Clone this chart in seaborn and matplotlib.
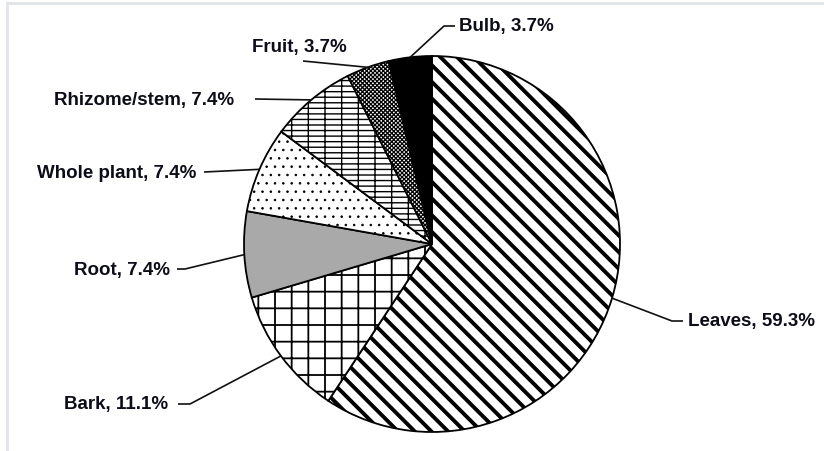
import matplotlib
matplotlib.use("Agg")
import matplotlib.pyplot as plt
import seaborn as sns
import numpy as np
from matplotlib.patches import Rectangle

sns.set_style("white")
plt.rcParams["font.family"] = ["Liberation Sans Narrow", "Liberation Sans", "DejaVu Sans"]

# data, clockwise from 12 o'clock
parts = ["Leaves", "Bark", "Root", "Whole plant", "Rhizome/stem", "Fruit", "Bulb"]
shares = [59.3, 11.1, 7.4, 7.4, 7.4, 3.7, 3.7]
fills = ["white", "white", "#a9a9a9", "white", "white", "white", "black"]
hatches = ["\\\\", "+", None, "..", "---|", "xxxxxxxx", None]
hatch_widths = [2.8, 1.3, 1.0, 0.6, 1.0, 0.9, 1.0]

# label layout in pixels: text anchor, elbow point, alignment
label_pos = {
    "Leaves": ((688, 322), [(683, 322), (672, 322)], "left", "center"),
    "Bark": ((168, 405), [(178, 405), (190, 405)], "right", "center"),
    "Root": ((170, 270), [(177, 270), (185, 270)], "right", "center"),
    "Whole plant": ((196, 173), [(204, 173)], "right", "center"),
    "Rhizome/stem": ((234, 100), [(255, 100)], "right", "center"),
    "Fruit": ((299, 47), [(303, 62)], "center", "center"),
    "Bulb": ((459, 27), [(455, 27), (444, 27)], "left", "center"),
}

W, H = 824, 452
CX, CY, R = 432, 245, 188

fig = plt.figure(figsize=(W / 100, H / 100), dpi=100)
fig.patches.append(Rectangle((7 / W, -0.1), 1.2, (H - 4) / H + 0.1,
                             transform=fig.transFigure, fill=False,
                             edgecolor="#e1e4e8", linewidth=2))

ax = fig.add_axes([(CX - R) / W, (H - CY - R) / H, 2 * R / W, 2 * R / H])
wedges, _ = ax.pie(shares, colors=fills, startangle=90, counterclock=False,
                   wedgeprops=dict(edgecolor="black", linewidth=1.3))
for w, h, hw in zip(wedges, hatches, hatch_widths):
    if h:
        w.set_hatch(h)
        try:
            w.set_hatch_linewidth(hw)
        except AttributeError:
            pass
ax.set_xlim(-1, 1)
ax.set_ylim(-1, 1)
ax.set_aspect("auto")
ax.axis("off")


def to_data(px, py):
    return (px - CX) / R, (CY - py) / R


for name, val, w in zip(parts, shares, wedges):
    ang = np.deg2rad((w.theta1 + w.theta2) / 2)
    edge = (np.cos(ang), np.sin(ang))
    (tx, ty), elbow, ha, va = label_pos[name]
    pts = [to_data(*p) for p in elbow] + [edge]
    ax.plot([p[0] for p in pts], [p[1] for p in pts], color="#111111",
            lw=1.2, clip_on=False, solid_capstyle="butt")
    x, y = to_data(tx, ty)
    ax.text(x, y, f"{name}, {val}%", ha=ha, va=va, fontsize=13.5,
            fontweight="bold", color="#0d0d1a", clip_on=False)

fig.savefig("out.png", dpi=100)
